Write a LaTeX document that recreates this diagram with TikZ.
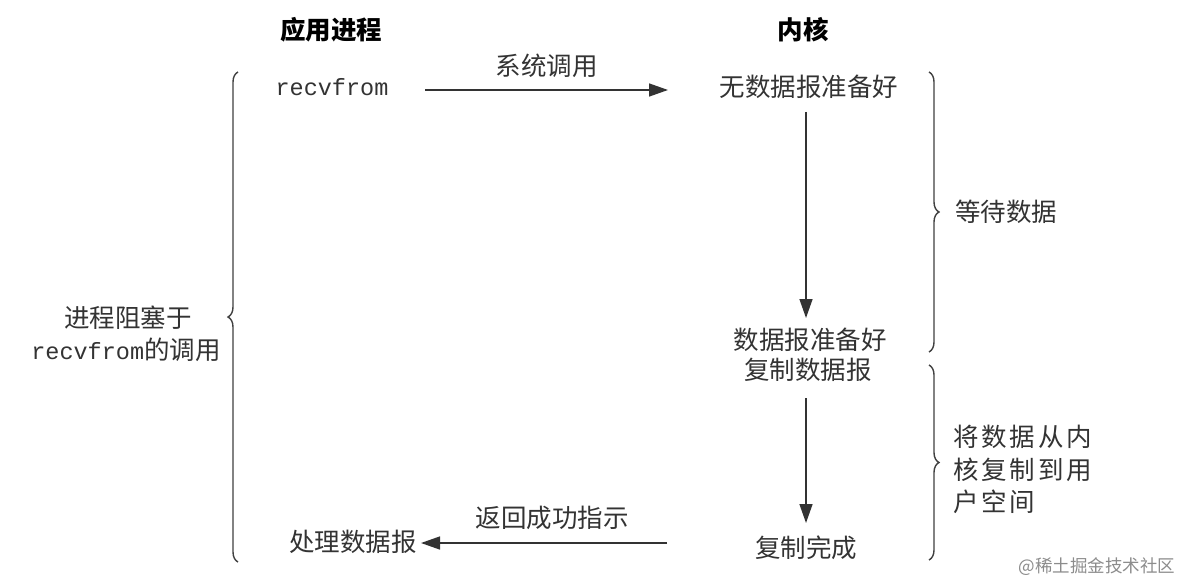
\documentclass[tikz,border=0pt]{standalone}
\usepackage{fontspec}
\setmainfont{Liberation Serif}
\newfontfamily\cjk{Noto Sans CJK SC}
\newfontfamily\cjkwide{Noto Sans CJK SC}[LetterSpace=11]
\setmonofont{Liberation Mono}
\usetikzlibrary{arrows.meta,decorations.pathreplacing}
\begin{document}
\begin{tikzpicture}[x=1pt,y=-1pt,
  txt/.style={inner sep=0pt,text=black!80,font=\cjk\fontsize{25.5}{30}\selectfont},
  widetxt/.style={inner sep=0pt,text=black!80,font=\cjkwide\fontsize{25.5}{30}\selectfont},
  head/.style={inner sep=0pt,text=black,font=\cjk\bfseries\fontsize{25.5}{30}\selectfont},
  code/.style={inner sep=0pt,text=black!80,font=\ttfamily\fontsize{23.5}{30}\selectfont},
  arr/.style={draw=black!80,line width=1.4pt,-{Triangle[length=19pt,width=13pt]}},
  brc/.style={draw=black!75,line width=1.4pt,decorate,decoration={brace,amplitude=10pt}}]
\useasboundingbox (0,0) rectangle (1182,580);
\fill[white] (0,0) rectangle (1182,580);
% headings
\node[head] (h1) at (331,30) {应用进程};
\node[head] (h2) at (803,30) {内核};
% top row
\node[code] (recv) at (332,87) {recvfrom};
\node[txt] (k1) at (809,87) {无数据报准备好};
\coordinate (a1s) at (425,90);
\coordinate (a1e) at (668,90);
\draw[arr] (a1s) -- node[txt,above=12pt] (sys) {系统调用} (a1e);
% kernel column
\node[txt] (k2) at (810,340) {数据报准备好};
\node[txt] (k3) at (808,370) {复制数据报};
\node[txt] (k4) at (806,548) {复制完成};
\coordinate (v1s) at (806,112);
\coordinate (v1e) at (806,318);
\coordinate (v2s) at (806,398);
\coordinate (v2e) at (806,523);
\draw[arr] (v1s) -- (v1e);
\draw[arr] (v2s) -- (v2e);
% bottom row
\node[txt] (proc) at (353,542) {处理数据报};
\coordinate (a2s) at (667,543);
\coordinate (a2e) at (421,543);
\draw[arr] (a2s) -- (a2e);
\node[txt] (ret) at (552,518) {返回成功指示};
% left brace
\coordinate (lb1) at (238,562);
\coordinate (lb2) at (238,72);
\draw[brc] (lb1) -- (lb2);
\node[txt] (l1) at (128,318) {进程阻塞于};
\node[inner sep=0pt,text=black!80] (l2) at (126,350) {{\ttfamily\fontsize{23.5}{30}\selectfont recvfrom}{\cjk\fontsize{25.5}{30}\selectfont 的调用}};
% right braces
\coordinate (rb1) at (929,72);
\coordinate (rb2) at (929,352);
\draw[brc] (rb1) -- (rb2);
\node[txt] (wait) at (1006,212) {等待数据};
\coordinate (rb3) at (929,365);
\coordinate (rb4) at (929,560);
\draw[brc] (rb3) -- (rb4);
\node[widetxt,anchor=west] (c1) at (953,437) {将数据从内};
\node[widetxt,anchor=west] (c2) at (953,470) {核复制到用};
\node[widetxt,anchor=west] (c3) at (953,502) {户空间};
% watermark
\node[inner sep=0pt,text=black!45,font=\cjk\fontsize{17.5}{20}\selectfont] (wm) at (1097,567) {@稀土掘金技术社区};
\end{tikzpicture}
\end{document}
